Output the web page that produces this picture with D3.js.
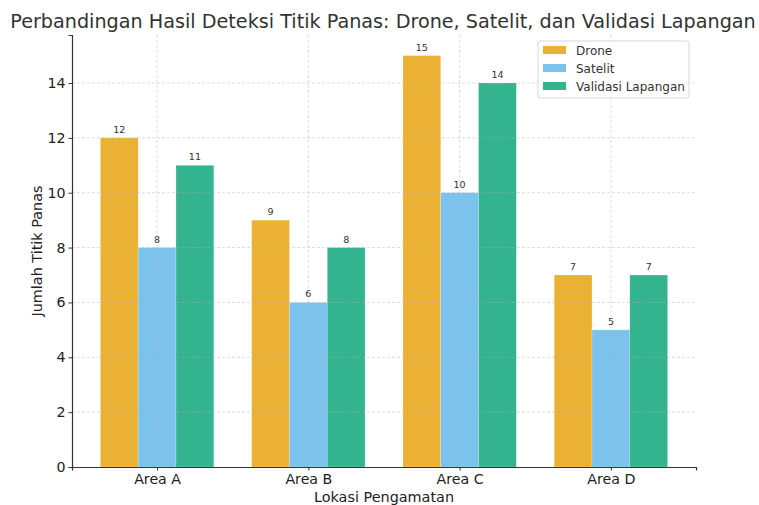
<!DOCTYPE html>
<html>
<head>
<meta charset="utf-8">
<script src="https://cdn.jsdelivr.net/npm/d3@7"></script>
<style>
  body { margin: 0; background: #fff; }
  svg text { font-family: "DejaVu Sans", sans-serif; }
</style>
</head>
<body>
<div id="chart"></div>
<script>
const areas = ["Area A", "Area B", "Area C", "Area D"];
const seriesNames = ["Drone", "Satelit", "Validasi Lapangan"];
const drone = [12, 9, 15, 7];
const satelit = [8, 6, 10, 5];
const validasi = [11, 8, 14, 7];
const yTicks = [0, 2, 4, 6, 8, 10, 12, 14];
const colors = ["#EBB134", "#7BC2EC", "#34B38F"];

const width = 759, height = 505;
const margin = { top: 35, right: 63, bottom: 38, left: 72 };
const innerW = width - margin.left - margin.right;
const innerH = height - margin.top - margin.bottom;

const svg = d3.select("#chart").append("svg")
  .attr("width", width)
  .attr("height", height);

const g = svg.append("g")
  .attr("transform", `translate(${margin.left},${margin.top})`);

const barW = 0.25;
const x = d3.scaleLinear()
  .domain([-0.5625, 3.5625])
  .range([0, innerW]);

const y = d3.scaleLinear()
  .domain([0, 15.75])
  .range([innerH, 0]);

const series = [drone, satelit, validasi];

// bars
series.forEach((vals, si) => {
  const off = (si - 1) * barW;
  g.append("g").selectAll("rect")
    .data(vals)
    .enter()
    .append("rect")
    .attr("x", (d, i) => x(i + off - barW / 2))
    .attr("width", x(barW) - x(0))
    .attr("y", d => y(d))
    .attr("height", d => y(0) - y(d))
    .attr("fill", colors[si])
    .attr("stroke", "#fff")
    .attr("stroke-opacity", 0.35)
    .attr("stroke-width", 0.6);

  g.append("g").selectAll("text")
    .data(vals)
    .enter()
    .append("text")
    .attr("x", (d, i) => x(i + off))
    .attr("y", d => y(d) - 5)
    .attr("text-anchor", "middle")
    .attr("font-size", 9.5)
    .attr("fill", "#333")
    .text(d => d);
});

// grid (drawn over bars, faint)
const grid = g.append("g")
  .attr("stroke", "#b0b0b0")
  .attr("stroke-opacity", 0.55)
  .attr("stroke-width", 0.8)
  .attr("stroke-dasharray", "3,2");

grid.selectAll("line.h")
  .data(yTicks.filter(d => d > 0))
  .enter()
  .append("line")
  .attr("x1", 0).attr("x2", innerW)
  .attr("y1", d => y(d)).attr("y2", d => y(d));

grid.selectAll("line.v")
  .data(areas)
  .enter()
  .append("line")
  .attr("x1", (d, i) => x(i)).attr("x2", (d, i) => x(i))
  .attr("y1", 0).attr("y2", innerH);

// axes
const yAxis = g.append("g")
  .call(d3.axisLeft(y).tickValues(yTicks).tickSize(3.5).tickPadding(3));
yAxis.selectAll("text").attr("font-size", 14.2).attr("fill", "#222");
yAxis.selectAll("line").attr("stroke", "#333");
yAxis.select(".domain").attr("stroke", "#333").attr("stroke-width", 1.2);

const xAxis = g.append("g")
  .attr("transform", `translate(0,${innerH})`)
  .call(d3.axisBottom(x).tickValues([0, 1, 2, 3]).tickFormat(i => areas[i]).tickSize(3.5).tickPadding(3));
xAxis.selectAll("text").attr("font-size", 14.2).attr("fill", "#222");
xAxis.selectAll("line").attr("stroke", "#333");
xAxis.select(".domain").attr("stroke", "#333").attr("stroke-width", 1.2);

// title and labels
svg.append("text")
  .attr("x", margin.left + innerW / 2 - 1)
  .attr("y", 28)
  .attr("text-anchor", "middle")
  .attr("font-size", 19.2)
  .attr("fill", "#333")
  .text("Perbandingan Hasil Deteksi Titik Panas: Drone, Satelit, dan Validasi Lapangan");

svg.append("text")
  .attr("x", margin.left + innerW / 2)
  .attr("y", 502)
  .attr("text-anchor", "middle")
  .attr("font-size", 14.4)
  .attr("fill", "#222")
  .text("Lokasi Pengamatan");

svg.append("text")
  .attr("transform", `translate(42,${margin.top + innerH / 2}) rotate(-90)`)
  .attr("text-anchor", "middle")
  .attr("font-size", 14.4)
  .attr("fill", "#222")
  .text("Jumlah Titik Panas");

// legend
const legend = svg.append("g").attr("transform", "translate(538,41)");
legend.append("rect")
  .attr("width", 151)
  .attr("height", 57)
  .attr("rx", 2)
  .attr("fill", "#fff")
  .attr("fill-opacity", 0.8)
  .attr("stroke", "#ccc")
  .attr("stroke-width", 0.8);

legend.selectAll("g.item")
  .data(seriesNames)
  .enter()
  .append("g")
  .attr("transform", (d, i) => `translate(5,${9 + i * 18})`)
  .each(function (d, i) {
    const it = d3.select(this);
    it.append("rect")
      .attr("width", 23)
      .attr("height", 8)
      .attr("y", -4)
      .attr("fill", colors[i]);
    it.append("text")
      .attr("x", 33)
      .attr("y", 4.5)
      .attr("font-size", 12)
      .attr("fill", "#333")
      .text(d);
  });
</script>
</body>
</html>
